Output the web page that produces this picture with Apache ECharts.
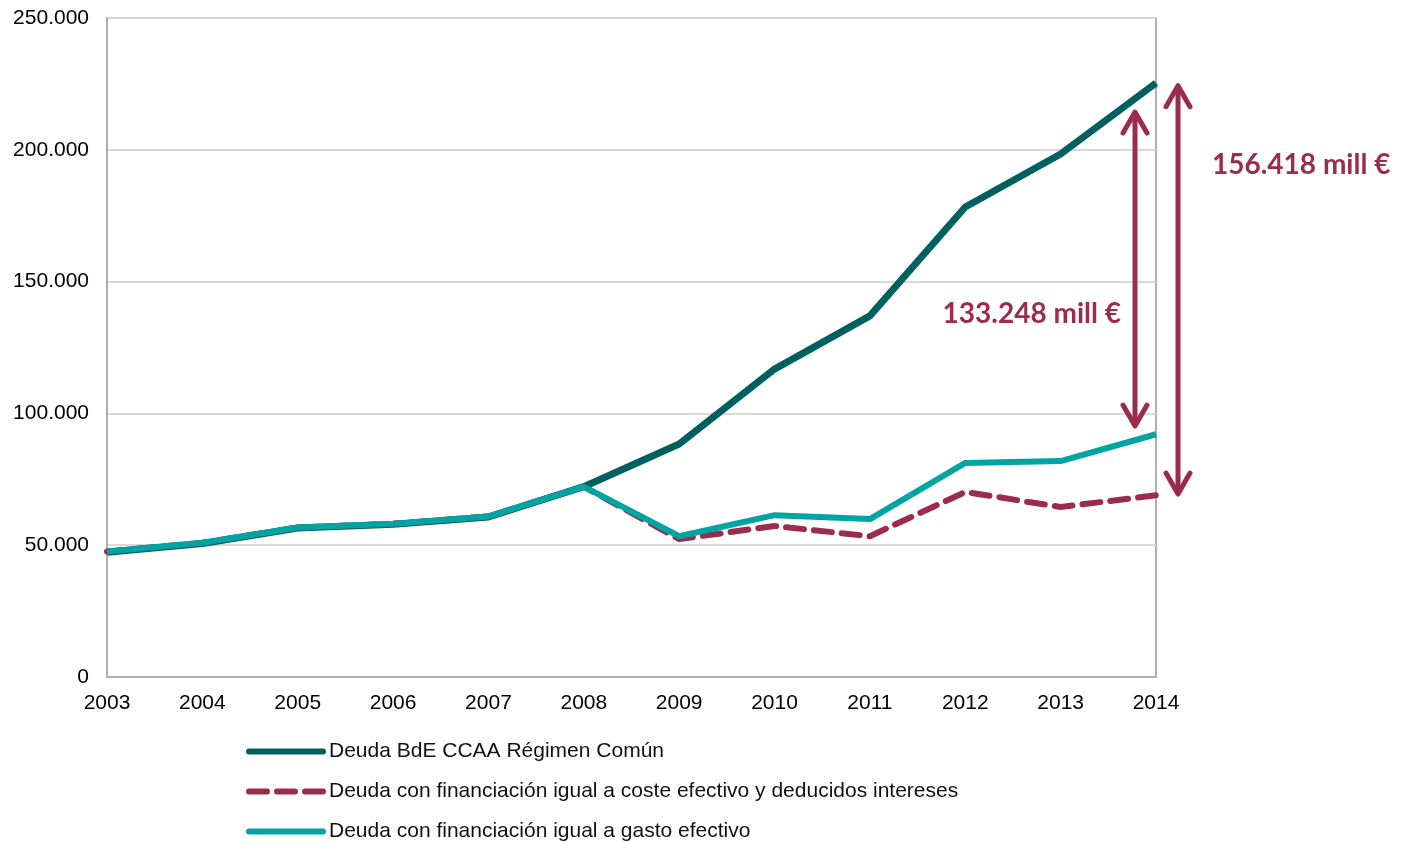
<!DOCTYPE html>
<html>
<head>
<meta charset="utf-8">
<script src="https://cdn.jsdelivr.net/npm/echarts@6/dist/echarts.min.js"></script>
<style>
  html, body { margin: 0; padding: 0; background: #fff; }
  #chart { width: 1408px; height: 842px; }
</style>
</head>
<body>
<div id="chart"></div>
<script>
// años
const years = ['2003', '2004', '2005', '2006', '2007', '2008', '2009', '2010', '2011', '2012', '2013', '2014'];
// Deuda BdE CCAA Régimen Común
const deudaBdE = [47300, 50600, 56500, 57900, 60700, 72200, 88400, 116800, 137000, 178300, 198400, 225340];
// Deuda con financiación igual a coste efectivo y deducidos intereses
const deudaCoste = [47600, 50900, 56700, 58100, 60900, 72200, 52300, 57300, 53400, 70200, 64500, 68922];
// Deuda con financiación igual a gasto efectivo
const deudaGasto = [47600, 50900, 56700, 58100, 60900, 72200, 53400, 61400, 59900, 81200, 81900, 92092];

// flechas de diferencia (2014): extremos en valores del eje
const gapLabels = ['133.248 mill €', '156.418 mill €'];
const gapTop = [214300, 224300];
const gapBottom = [95200, 69400];

const names = [
  'Deuda BdE CCAA Régimen Común',
  'Deuda con financiación igual a coste efectivo y deducidos intereses',
  'Deuda con financiación igual a gasto efectivo'
];

const TEAL = '#00605f';
const WINE = '#9b2c4e';
const CYAN = '#00a5a3';
const FONT = '"Liberation Sans", Arial, sans-serif';

const chart = echarts.init(document.getElementById('chart'));

const option = {
  animation: false,
  grid: {
    left: 107,
    right: 252,
    top: 18,
    bottom: 165,
    show: true,
    borderColor: '#b0b0b0',
    borderWidth: 2
  },
  legend: {
    orient: 'vertical',
    left: 246,
    top: 741,
    height: 110,
    padding: 0,
    itemWidth: 74,
    itemHeight: 14,
    itemGap: 19,
    itemStyle: { opacity: 0 },
    lineStyle: { width: 6, cap: 'round' },
    textStyle: { fontFamily: FONT, fontSize: 21, color: '#111', padding: [0, 0, 0, 1] },
    data: names
  },
  xAxis: {
    type: 'category',
    data: years,
    boundaryGap: false,
    axisLine: { lineStyle: { color: '#b0b0b0', width: 2 } },
    axisTick: { show: false },
    axisLabel: { fontFamily: FONT, fontSize: 21, color: '#000', margin: 16 }
  },
  yAxis: {
    type: 'value',
    min: 0,
    max: 250000,
    interval: 50000,
    axisLine: { show: true, lineStyle: { color: '#b0b0b0', width: 2 } },
    axisTick: { show: false },
    splitLine: { lineStyle: { color: '#d9d9d9', width: 2 } },
    axisLabel: {
      fontFamily: FONT, fontSize: 21, color: '#000', margin: 18,
      formatter: v => v === 0 ? '0' : (v / 1000).toFixed(0) + '.000'
    }
  },
  series: [
    {
      name: names[0],
      type: 'line',
      data: deudaBdE,
      symbol: 'none',
      z: 2,
      lineStyle: { color: TEAL, width: 7 },
      itemStyle: { color: TEAL }
    },
    {
      name: names[1],
      type: 'line',
      data: deudaCoste,
      symbol: 'none',
      z: 3,
      lineStyle: { color: WINE, width: 6, type: [18, 10], cap: 'round' },
      itemStyle: { color: WINE }
    },
    {
      name: names[2],
      type: 'line',
      data: deudaGasto,
      symbol: 'none',
      z: 4,
      lineStyle: { color: CYAN, width: 6 },
      itemStyle: { color: CYAN }
    }
  ]
};

chart.setOption(option);

// flechas dobles y etiquetas, posicionadas con la escala del gráfico
function arrow(x, yTop, yBottom) {
  const hw = 12, hh = 21;
  const style = { stroke: WINE, lineWidth: 5, lineCap: 'round', lineJoin: 'round', fill: null };
  return [
    { type: 'line', shape: { x1: x, y1: yTop + 2, x2: x, y2: yBottom - 2 }, style: style, z: 10 },
    { type: 'polyline', shape: { points: [[x - hw, yTop + hh], [x, yTop], [x + hw, yTop + hh]] }, style: style, z: 10 },
    { type: 'polyline', shape: { points: [[x - hw, yBottom - hh], [x, yBottom], [x + hw, yBottom - hh]] }, style: style, z: 10 }
  ];
}

const xEnd = chart.convertToPixel({ gridIndex: 0 }, ['2014', 0])[0];
const offsets = [-21, 22];
let graphics = [];
for (let i = 0; i < gapTop.length; i++) {
  const yT = chart.convertToPixel({ gridIndex: 0 }, ['2014', gapTop[i]])[1];
  const yB = chart.convertToPixel({ gridIndex: 0 }, ['2014', gapBottom[i]])[1];
  graphics = graphics.concat(arrow(xEnd + offsets[i], yT, yB));
}
const y1 = chart.convertToPixel({ gridIndex: 0 }, ['2014', 137700])[1];
const y2 = chart.convertToPixel({ gridIndex: 0 }, ['2014', 194200])[1];
const labelFont = 'bold 28px Lato, "Open Sans", sans-serif';
graphics.push({
  type: 'text', x: xEnd + offsets[0] - 14, y: y1, z: 10,
  style: { text: gapLabels[0], fill: WINE, font: labelFont, align: 'right', verticalAlign: 'middle' }
});
graphics.push({
  type: 'text', x: xEnd + 56, y: y2, z: 10,
  style: { text: gapLabels[1], fill: WINE, font: labelFont, align: 'left', verticalAlign: 'middle' }
});
chart.setOption({ graphic: graphics });

window.addEventListener('resize', () => chart.resize());
</script>
</body>
</html>
